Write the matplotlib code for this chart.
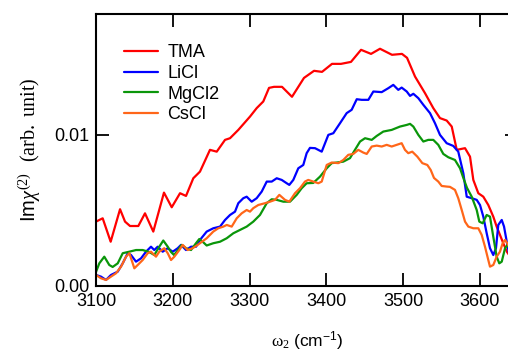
import matplotlib
matplotlib.use("Agg")
import matplotlib.pyplot as plt
import numpy as np

# wavenumber (cm^-1) and Im chi(2) (in units of 1e-3, arb.)
tma_x = [3100.0, 3108.7, 3119.1, 3131.3, 3137.8, 3144.3, 3155.1, 3163.8, 3174.6, 3188.5,
         3198.6, 3209.4, 3217.2, 3226.7, 3235.4, 3248.4, 3257.2, 3268.0, 3274.5, 3285.3,
         3300.5, 3309.2, 3317.8, 3325.3, 3331.8, 3342.2, 3355.2, 3370.8, 3383.9, 3394.3,
         3407.3, 3419.0, 3432.0, 3445.1, 3458.1, 3469.8, 3485.4, 3498.4, 3505.0, 3515.4,
         3528.4, 3539.2, 3547.9, 3556.6, 3563.2, 3569.7, 3580.5, 3587.0, 3591.3, 3597.8,
         3604.3, 3610.8, 3617.3, 3621.7, 3626.0, 3630.3, 3635.2, 3640.0]
tma_y = [4.26, 4.48, 2.93, 5.08, 4.26, 3.97, 3.97, 4.81, 3.60, 6.18,
         5.21, 6.14, 5.96, 7.13, 7.57, 9.01, 8.89, 9.67, 9.78, 10.33,
         11.21, 11.77, 12.21, 13.11, 13.18, 13.18, 12.52, 13.77, 14.24, 14.17,
         14.70, 14.70, 14.83, 15.63, 15.36, 15.70, 15.30, 15.36, 15.10, 13.86,
         12.76, 11.77, 11.11, 10.95, 10.55, 9.01, 9.12, 8.56, 7.02, 6.14,
         5.91, 5.36, 4.59, 3.93, 3.38, 2.83, 2.25, 1.90]

licl_x = [3100.0, 3106.5, 3113.0, 3119.5, 3128.3, 3134.8, 3141.3, 3145.6, 3152.1, 3158.6,
          3165.1, 3171.6, 3175.9, 3180.3, 3186.8, 3193.4, 3199.9, 3206.4, 3210.7, 3217.2,
          3223.7, 3230.2, 3235.4, 3244.1, 3252.7, 3261.5, 3268.0, 3274.5, 3281.0, 3285.3,
          3291.8, 3296.2, 3302.7, 3309.2, 3315.8, 3322.3, 3328.8, 3335.3, 3341.8, 3348.3,
          3351.7, 3356.9, 3363.4, 3369.9, 3374.3, 3378.6, 3385.2, 3393.9, 3402.5, 3409.0,
          3417.7, 3426.4, 3432.9, 3439.5, 3446.0, 3454.6, 3461.1, 3472.0, 3480.6, 3487.1,
          3493.6, 3498.0, 3504.6, 3508.9, 3513.2, 3519.7, 3526.2, 3534.9, 3541.4, 3547.9,
          3556.6, 3565.2, 3571.7, 3578.3, 3582.7, 3589.2, 3595.7, 3600.0, 3604.3, 3608.7,
          3613.0, 3617.3, 3620.8, 3623.8, 3628.3, 3631.3, 3635.2, 3640.0]
licl_y = [0.73, 0.62, 0.40, 0.73, 0.95, 1.50, 2.17, 2.05, 1.61, 1.83,
          2.27, 2.60, 2.38, 2.60, 2.27, 2.50, 2.27, 2.50, 2.72, 2.38,
          2.60, 2.60, 3.05, 3.60, 3.82, 3.93, 4.37, 4.70, 4.92, 5.48,
          5.81, 5.91, 5.58, 5.81, 6.25, 6.91, 6.91, 7.13, 7.02, 6.80,
          6.69, 7.02, 7.79, 8.01, 8.79, 9.14, 9.12, 8.89, 10.00, 10.11,
          10.77, 11.44, 11.66, 12.36, 12.32, 12.32, 12.87, 12.83, 13.09, 13.31,
          12.98, 13.13, 12.87, 12.58, 12.72, 12.43, 11.99, 11.44, 10.77, 10.00,
          9.45, 9.27, 8.89, 7.46, 5.91, 5.81, 5.70, 5.36, 4.59, 3.49,
          2.50, 2.05, 2.50, 4.04, 4.37, 3.93, 2.83, 1.60]

mgcl2_x = [3100.0, 3104.3, 3110.8, 3117.3, 3121.7, 3128.3, 3134.8, 3143.4, 3152.1, 3160.8,
           3169.4, 3175.9, 3182.4, 3187.6, 3193.4, 3197.7, 3201.6, 3206.8, 3211.6, 3217.2,
           3223.7, 3230.2, 3234.5, 3238.9, 3244.1, 3252.7, 3261.5, 3270.2, 3278.8, 3287.5,
           3296.2, 3304.8, 3313.5, 3322.3, 3328.8, 3335.3, 3343.9, 3352.6, 3361.3, 3367.8,
           3374.3, 3382.9, 3391.7, 3400.4, 3406.9, 3413.4, 3422.0, 3430.7, 3437.2, 3443.8,
           3450.3, 3459.0, 3465.5, 3474.1, 3485.0, 3495.8, 3504.6, 3508.9, 3513.2, 3519.7,
           3526.2, 3532.7, 3539.2, 3545.7, 3552.2, 3558.7, 3567.4, 3574.0, 3578.3, 3583.1,
           3589.2, 3595.7, 3599.1, 3603.5, 3608.7, 3613.0, 3617.3, 3621.7, 3625.1, 3628.3,
           3632.6, 3635.8, 3640.0]
mgcl2_y = [0.93, 1.50, 1.94, 1.39, 1.26, 1.50, 2.17, 2.27, 2.38, 2.38,
           2.25, 2.05, 2.60, 3.01, 2.60, 2.25, 2.05, 2.38, 2.72, 2.50,
           2.38, 2.83, 3.11, 2.93, 2.68, 2.83, 2.93, 3.16, 3.49, 3.71,
           3.93, 4.26, 4.70, 5.48, 5.74, 5.70, 5.58, 5.58, 6.03, 6.47,
           6.80, 6.82, 7.24, 7.79, 8.13, 8.17, 8.23, 8.46, 9.01, 9.56,
           9.78, 9.67, 9.93, 10.22, 10.33, 10.55, 10.66, 10.73, 10.55, 10.00,
           9.56, 9.67, 9.67, 9.34, 8.74, 8.52, 8.34, 7.79, 7.15, 6.49,
           5.91, 5.03, 4.26, 4.15, 4.70, 4.59, 3.26, 1.94, 1.50, 1.61,
           2.50, 2.72, 2.40]

cscl_x = [3100.0, 3106.5, 3113.0, 3119.5, 3126.0, 3132.6, 3139.1, 3143.4, 3147.8, 3149.9,
          3154.3, 3160.8, 3167.3, 3171.6, 3178.1, 3182.4, 3188.9, 3193.4, 3197.7, 3202.0,
          3208.5, 3212.9, 3219.4, 3225.9, 3232.4, 3244.1, 3252.7, 3259.2, 3265.8, 3270.2,
          3276.7, 3283.2, 3289.7, 3296.2, 3300.5, 3304.8, 3311.3, 3320.1, 3326.6, 3333.1,
          3338.7, 3346.1, 3351.7, 3359.1, 3365.6, 3372.1, 3376.4, 3382.9, 3389.5, 3393.9,
          3400.4, 3406.9, 3415.5, 3422.0, 3428.5, 3435.0, 3441.5, 3448.0, 3452.5, 3459.0,
          3465.5, 3472.0, 3478.5, 3485.0, 3491.5, 3498.0, 3502.3, 3506.6, 3511.8, 3518.4,
          3524.9, 3531.4, 3535.8, 3540.1, 3545.7, 3550.1, 3556.6, 3560.9, 3567.4, 3571.7,
          3576.2, 3580.5, 3584.8, 3591.3, 3597.8, 3602.2, 3606.5, 3610.8, 3613.0, 3617.3,
          3621.7, 3626.0, 3629.5, 3632.6, 3635.6, 3640.0]
cscl_y = [0.73, 0.51, 0.40, 0.62, 0.84, 1.28, 1.94, 2.17, 1.50, 1.17,
          1.39, 1.72, 2.17, 2.27, 1.94, 2.27, 2.50, 2.17, 1.72, 1.94,
          2.38, 2.72, 2.38, 2.50, 2.72, 3.16, 3.60, 3.82, 3.93, 4.04,
          3.93, 4.48, 4.81, 5.03, 4.92, 5.15, 5.36, 5.48, 5.58, 5.70,
          6.03, 5.70, 5.58, 6.14, 6.47, 6.91, 7.02, 6.91, 6.80, 6.91,
          8.01, 8.17, 8.13, 8.34, 8.68, 8.74, 9.01, 8.83, 8.74, 9.23,
          9.29, 9.23, 9.34, 9.23, 9.34, 9.45, 9.01, 8.79, 8.89, 8.56,
          8.13, 8.01, 7.68, 7.15, 6.91, 6.62, 6.58, 6.56, 6.36, 5.81,
          5.03, 4.26, 3.93, 3.82, 3.82, 3.38, 2.60, 1.72, 1.28, 1.39,
          1.94, 2.27, 2.83, 3.05, 2.83, 2.40]

labels = ["TMA", "LiCl", "MgCl2", "CsCl"]
colors = ["#ff0000", "#0000ff", "#0a960a", "#ff6619"]

x_ticks = [3100, 3200, 3300, 3400, 3500, 3600]
y_ticks = [0.0, 0.01]

plt.rcParams["font.family"] = "Liberation Sans"
plt.rcParams["font.size"] = 13
plt.rcParams["mathtext.fontset"] = "custom"
plt.rcParams["mathtext.rm"] = "Liberation Serif"
plt.rcParams["mathtext.it"] = "Liberation Serif:italic"
plt.rcParams["mathtext.sf"] = "Liberation Sans"

fig = plt.figure(figsize=(5.08, 3.55), dpi=100)
ax = fig.add_axes([0.18898, 0.19437, 0.83150, 0.76620])

series = [(tma_x, tma_y), (licl_x, licl_y), (mgcl2_x, mgcl2_y), (cscl_x, cscl_y)]
for (xs, ys), lab, col in zip(series, labels, colors):
    ax.plot(xs, np.array(ys) * 1e-3, color=col, lw=1.6, label=lab,
            solid_joinstyle="round", solid_capstyle="round")

ax.set_xlim(3100, 3650)
ax.set_ylim(0, 0.018)
ax.set_xticks(x_ticks)
ax.set_yticks(y_ticks)
ax.set_yticklabels([f"{v:.2f}" for v in y_ticks])

for sp in ax.spines.values():
    sp.set_linewidth(1.5)
ax.tick_params(direction="in", length=9.5, width=1.3, top=True, right=True,
               labelsize=13, pad=5)

ax.set_xlabel(r"$\mathrm{\omega_2}\ \mathsf{(cm^{-1})}$", fontsize=12.5, labelpad=14)
ax.set_ylabel(r"$\mathsf{Im}\chi^{\mathrm{(2)}}$  $\mathrm{(arb.\ unit)}$",
              fontsize=14.5, labelpad=8)

ax.legend(loc="upper left", bbox_to_anchor=(0.066, 0.888), frameon=False,
          borderpad=0, borderaxespad=0, handlelength=1.9, handletextpad=0.5,
          labelspacing=0.2, fontsize=13)

fig.savefig("out.png", dpi=100)
